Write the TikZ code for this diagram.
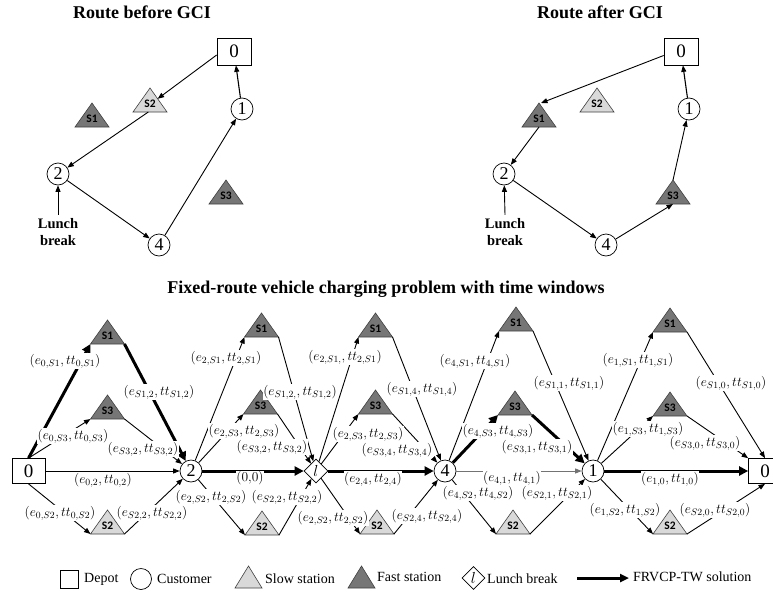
\RequirePackage{fix-cm}
\documentclass[tikz,border=0pt]{standalone}
\usepackage{fontspec}
\setmainfont{Liberation Serif}
\newfontfamily\trifont{Carlito}
\usetikzlibrary{arrows.meta,shapes.geometric,calc}

\definecolor{darktri}{RGB}{118,118,118}
\definecolor{lighttri}{RGB}{217,217,217}

\tikzset{
  tri/.style={draw=black!75, line width=0.6pt},
  trilabel/.style={font=\trifont\bfseries\fontsize{11.5}{11.5}\selectfont, inner sep=0pt},
  cust/.style={circle, draw, line width=0.7pt, minimum size=22pt, inner sep=0pt, font=\fontsize{18}{18}\selectfont},
  depot/.style={rectangle, draw, line width=0.7pt, minimum width=34pt, minimum height=27pt, inner sep=0pt, font=\fontsize{19}{19}\selectfont},
  lunch/.style={diamond, draw, line width=0.7pt, minimum width=24pt, minimum height=24pt, inner sep=0pt, font=\fontsize{16}{16}\selectfont},
  arr/.style={line width=0.9pt, -{Triangle[length=6.5pt,width=5pt]}},
  tarr/.style={line width=3pt, -{Triangle[length=9pt,width=9pt]}},
  garr/.style={draw=black!55, line width=0.9pt, -{Triangle[length=6.5pt,width=5pt]}},
  elab/.style={fill=white, inner sep=0.6pt, font=\fontsize{13.5}{14}\selectfont},
  titletext/.style={font=\bfseries\fontsize{18}{20}\selectfont},
  lbreak/.style={font=\bfseries\fontsize{14.5}{17}\selectfont, align=center},
  legtext/.style={font=\fontsize{14}{16}\selectfont, anchor=west, inner sep=0pt},
}

% triangle: name, x, apex y, fill, label
\newcommand{\mytri}[5]{%
  \coordinate (#1) at (#2,{#3+12});
  \coordinate (#1a) at (#2,#3);
  \coordinate (#1l) at ({#2-17},{#3+24});
  \coordinate (#1r) at ({#2+17},{#3+24});
  \filldraw[tri,fill=#4] (#1a) -- (#1l) -- (#1r) -- cycle;
  \node[trilabel] (#1t) at (#2,{#3+15.5}) {#5};
}
% legend triangle: name, x, apex y, fill
\newcommand{\legtri}[4]{%
  \coordinate (#1a) at (#2,#3);
  \coordinate (#1l) at ({#2-13.5},{#3+22});
  \coordinate (#1r) at ({#2+13.5},{#3+22});
  \filldraw[tri,fill=#4] (#1a) -- (#1l) -- (#1r) -- cycle;
}

\begin{document}
\begin{tikzpicture}[x=1pt,y=-1pt]
\useasboundingbox (0,0) rectangle (773,597);

% ---------------- Route before GCI ----------------
\node[titletext] (t1) at (142,12) {Route before GCI};
\node[depot] (a0) at (234,51.5) {0};
\node[cust] (a1) at (242,109) {1};
\node[cust] (a2) at (58,174) {2};
\node[cust] (a4) at (159,245) {4};
\mytri{aS2}{150}{88}{lighttri}{S2}
\mytri{aS1}{92}{103}{darktri}{S1}
\mytri{aS3}{226}{180}{darktri}{S3}
\node[lbreak] (alb) at (58,232) {Lunch\\break};
\draw[arr] (alb.north) -- (a2);
\draw[arr] ($(a0.west)+(0,3.5)$) -- ($(aS2a)!0.45!(aS2r)$);
\draw[arr] ($(aS2l)!0.45!(aS2r)$) -- (a2);
\draw[arr] (a2) -- (a4);
\draw[arr] (a4) -- (a1);
\draw[arr, line width=1.1pt] (a1) -- (a0);

% ---------------- Route after GCI ----------------
\node[titletext] (t2) at (600,12) {Route after GCI};
\node[depot] (b0) at (681,51.5) {0};
\node[cust] (b1) at (689,109) {1};
\node[cust] (b2) at (504,174) {2};
\node[cust] (b4) at (606,245) {4};
\mytri{bS2}{597}{88}{lighttri}{S2}
\mytri{bS1}{539}{103}{darktri}{S1}
\mytri{bS3}{673}{180}{darktri}{S3}
\node[lbreak] (blb) at (505,232) {Lunch\\break};
\draw[arr] (blb.north) -- (b2);
\draw[arr] ($(b0.west)+(0,4)$) -- ($(bS1a)+(2,0)$);
\draw[arr] ($(bS1l)!0.5!(bS1r)$) -- (b2);
\draw[arr] (b2) -- (b4);
\draw[arr] (b4) -- ($(bS3l)!0.5!(bS3r)$);
\draw[arr] (bS3a) -- (b1);
\draw[arr, line width=1.1pt] (b1) -- (b0);

% ---------------- FRVCP-TW graph ----------------
\node[titletext] (t3) at (386,289) {Fixed-route vehicle charging problem with time windows};

\node[depot, minimum width=33pt, minimum height=25pt] (B0) at (28.5,471) {0};
\node[cust] (B2) at (191,471) {2};
\node[lunch] (Bl) at (316,471) {$l$};
\node[cust] (B4) at (445,471) {4};
\node[cust] (B1) at (593,471) {1};
\node[depot, minimum width=33pt, minimum height=25pt] (B0r) at (765,471) {0};

\mytri{u1}{107.5}{320}{darktri}{S1}
\mytri{m1}{107.5}{395}{darktri}{S3}
\mytri{d1}{107.5}{510}{lighttri}{S2}
\mytri{u2}{261.5}{313}{darktri}{S1}
\mytri{m2}{260.5}{390}{darktri}{S3}
\mytri{d2}{262}{511}{lighttri}{S2}
\mytri{u3}{375.5}{313}{darktri}{S1}
\mytri{m3}{375.5}{390}{darktri}{S3}
\mytri{d3}{377}{510}{lighttri}{S2}
\mytri{u4}{516}{307}{darktri}{S1}
\mytri{m4}{515}{391}{darktri}{S3}
\mytri{d4}{513}{510}{lighttri}{S2}
\mytri{u5}{670}{308}{darktri}{S1}
\mytri{m5}{670}{392}{darktri}{S3}
\mytri{d5}{670}{510}{lighttri}{S2}

% column 1
\draw[tarr] (B0.north) -- (u1l);
\draw[tarr] (u1r) -- (B2);
\draw[arr] (B0.north) -- (m1l);
\draw[arr] (m1r) -- (B2);
\draw[arr] (B0) -- (B2);
\draw[arr] (B0.south) -- (d1l);
\draw[arr] (d1r) -- (B2);
% column 2
\draw[arr] (B2) -- (u2l);
\draw[arr] (u2r) -- (Bl);
\draw[arr] (B2) -- (m2l);
\draw[arr] (m2r) -- (Bl);
\draw[tarr] (B2) -- (Bl);
\draw[arr] (B2) -- (d2l);
\draw[arr] (d2r) -- (Bl);
% column 3
\draw[arr] (Bl) -- (u3l);
\draw[arr] (u3r) -- (B4);
\draw[arr] (Bl) -- (m3l);
\draw[arr] (m3r) -- (B4);
\draw[tarr] (Bl) -- (B4);
\draw[arr] (Bl) -- (d3l);
\draw[arr] (d3r) -- (B4);
% column 4
\draw[arr] (B4) -- (u4l);
\draw[arr] (u4r) -- (B1);
\draw[tarr] (B4) -- (m4l);
\draw[tarr] (m4r) -- (B1);
\draw[garr] (B4) -- (B1);
\draw[arr] (B4) -- (d4l);
\draw[arr] (d4r) -- (B1);
% column 5
\draw[arr] (B1) -- (u5l);
\draw[arr] (u5r) -- (B0r.north);
\draw[arr] (B1) -- (m5l);
\draw[arr] (m5r) -- (B0r.north west);
\draw[tarr] (B1) -- (B0r);
\draw[arr] (B1) -- (d5l);
\draw[arr] (d5r) -- (B0r.south);

% edge labels
\node[elab] (l11) at (65,361) {$(e_{0,S1},tt_{0,S1})$};
\node[elab] (l12) at (159,392) {$(e_{S1,2},tt_{S1,2})$};
\node[elab] (l13) at (73,436) {$(e_{0,S3},tt_{0,S3})$};
\node[elab] (l14) at (143,449) {$(e_{S3,2},tt_{S3,2})$};
\node[elab] (l15) at (103,480) {$(e_{0,2},tt_{0,2})$};
\node[elab] (l16) at (60,513) {$(e_{0,S2},tt_{0,S2})$};
\node[elab] (l17) at (152,513) {$(e_{S2,2},tt_{S2,2})$};

\node[elab] (l21) at (226,358) {$(e_{2,S1},tt_{2,S1})$};
\node[elab] (l22) at (300,392) {$(e_{S1,2,},tt_{S1,2})$};
\node[elab] (l23) at (244,431) {$(e_{2,S3},tt_{2,S3})$};
\node[elab] (l24) at (272,447) {$(e_{S3,2},tt_{S3,2})$};
\node[elab] (l25) at (250,478) {$(0{,}0)$};
\node[elab] (l26) at (211,497) {$(e_{2,S2},tt_{2,S2})$};
\node[elab] (l27) at (287,497) {$(e_{S2,2},tt_{S2,2})$};

\node[elab] (l31) at (345,357) {$(e_{2,S1,},tt_{2,S1})$};
\node[elab] (l32) at (422,389) {$(e_{S1,4},tt_{S1,4})$};
\node[elab] (l33) at (368,434) {$(e_{2,S3},tt_{2,S3})$};
\node[elab] (l34) at (397,450) {$(e_{S3,4},tt_{S3,4})$};
\node[elab] (l35) at (373,479) {$(e_{2,4},tt_{2,4})$};
\node[elab] (l36) at (333,518) {$(e_{2,S2},tt_{2,S2})$};
\node[elab] (l37) at (427,516) {$(e_{S2,4},tt_{S2,4})$};

\node[elab] (l41) at (475,361) {$(e_{4,S1},tt_{4,S1})$};
\node[elab] (l42) at (569,383) {$(e_{S1,1},tt_{S1,1})$};
\node[elab] (l43) at (498,431) {$(e_{4,S3},tt_{4,S3})$};
\node[elab] (l44) at (537,447) {$(e_{S3,1},tt_{S3,1})$};
\node[elab] (l45) at (512,478) {$(e_{4,1},tt_{4,1})$};
\node[elab] (l46) at (478,493) {$(e_{4,S2},tt_{4,S2})$};
\node[elab] (l47) at (557,493) {$(e_{S2,1},tt_{S2,1})$};

\node[elab] (l51) at (638,360) {$(e_{1,S1},tt_{1,S1})$};
\node[elab] (l52) at (731,383) {$(e_{S1,0},tt_{S1,0})$};
\node[elab] (l53) at (648,429) {$(e_{1,S3},tt_{1,S3})$};
\node[elab] (l54) at (705,443) {$(e_{S3,0},tt_{S3,0})$};
\node[elab] (l55) at (670,479) {$(e_{1,0},tt_{1,0})$};
\node[elab] (l56) at (625,510) {$(e_{1,S2},tt_{1,S2})$};
\node[elab] (l57) at (715,510) {$(e_{S2,0},tt_{S2,0})$};

% ---------------- legend ----------------
\node[depot, minimum width=18pt, minimum height=18pt] (kd) at (69,579) {};
\node[legtext] (kdt) at (84,579) {Depot};
\node[circle, draw, line width=0.7pt, minimum size=21pt, inner sep=0pt] (kc) at (141,579) {};
\node[legtext] (kct) at (157,579) {Customer};
\legtri{ks}{248.5}{566}{lighttri}
\node[legtext] (kst) at (265,579) {Slow station};
\legtri{kf}{361.5}{566}{darktri}
\node[legtext] (kft) at (377,577) {Fast station};
\node[lunch, minimum width=23pt, minimum height=23pt] (kl) at (473.5,578) {$l$};
\node[legtext] (klt) at (487,579) {Lunch break};
\coordinate (ka1) at (577,578);
\coordinate (ka2) at (629,578);
\draw[line width=3pt, -{Triangle[length=9pt,width=8pt]}] (ka1) -- (ka2);
\node[legtext] (kat) at (633,577) {FRVCP-TW solution};
\end{tikzpicture}
\end{document}
